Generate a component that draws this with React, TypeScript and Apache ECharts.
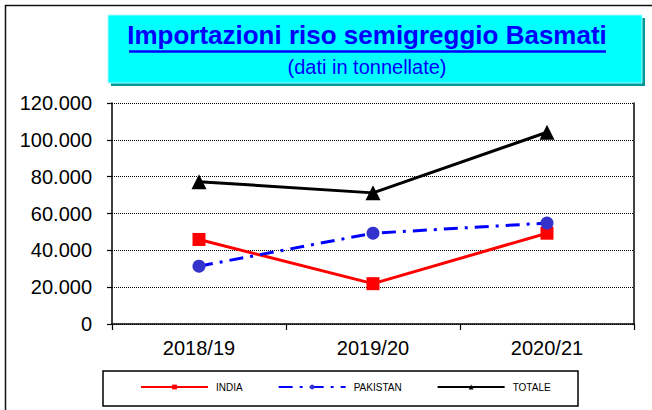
import React, { useEffect, useRef } from "react";
import * as echarts from "echarts";

const categories = ["2018/19", "2019/20", "2020/21"];
const india = [45900, 21900, 49300];
const pakistan = [31400, 49300, 54800];
const totale = [77300, 71200, 104100];
const yTicks = { min: 0, max: 120000, interval: 20000 };
const titleText = "Importazioni riso semigreggio Basmati";
const subtitleText = "(dati in tonnellate)";
const seriesNames = ["INDIA", "PAKISTAN", "TOTALE"];

function fmt(v: number): string {
  if (v === 0) return "0";
  const s = String(Math.round(v));
  return s.replace(/\B(?=(\d{3})+(?!\d))/g, ".");
}

export default function App() {
  const ref = useRef<HTMLDivElement>(null);
  useEffect(() => {
    if (!ref.current) return;
    const chart = echarts.init(ref.current, null, { renderer: "svg" });
    const font = "Liberation Sans, Arial, sans-serif";
    chart.setOption({
      animation: false,
      backgroundColor: "#fff",
      textStyle: { fontFamily: font },
      grid: { left: 112, right: 18, top: 103, bottom: 86, containLabel: false },
      xAxis: {
        type: "category",
        data: categories,
        boundaryGap: true,
        axisLine: { lineStyle: { color: "#000", width: 1.5 } },
        axisTick: { show: true, length: 6, lineStyle: { color: "#000", width: 1.2 } },
        axisLabel: { color: "#000", fontSize: 20, margin: 14, fontFamily: font },
        splitLine: { show: false },
      },
      yAxis: [
        {
          type: "value",
          min: yTicks.min,
          max: yTicks.max,
          interval: yTicks.interval,
          axisLine: { show: true, lineStyle: { color: "#000", width: 1.5 } },
          axisTick: { show: true, length: 5, lineStyle: { color: "#000", width: 1.2 } },
          axisLabel: { color: "#000", fontSize: 20, margin: 20, formatter: fmt, fontFamily: font },
          splitLine: { show: true, lineStyle: { color: "#000", width: 1, type: [1, 1] } },
        },
        {
          type: "value",
          position: "right",
          min: yTicks.min,
          max: yTicks.max,
          interval: yTicks.interval,
          axisLine: { show: true, lineStyle: { color: "#000", width: 1.5 } },
          axisTick: { show: false },
          axisLabel: { show: false },
          splitLine: { show: false },
        },
      ],
      legend: {
        left: 140,
        top: 382,
        itemWidth: 67,
        itemHeight: 6,
        itemGap: 35,
        padding: 0,
        textStyle: { fontSize: 10, color: "#000", fontFamily: font, padding: [0, 0, 0, 3] },
        data: seriesNames,
      },
      series: [
        {
          name: seriesNames[0],
          type: "line",
          data: india,
          symbol: "rect",
          symbolSize: 13,
          itemStyle: { color: "#ff0000" },
          lineStyle: { color: "#ff0000", width: 3 },
        },
        {
          name: seriesNames[1],
          type: "line",
          data: pakistan,
          symbol: "circle",
          symbolSize: 13,
          itemStyle: { color: "#3333cc" },
          lineStyle: { color: "#0000ff", width: 3, type: [14, 7, 3, 7] },
        },
        {
          name: seriesNames[2],
          type: "line",
          data: totale,
          symbol: "triangle",
          symbolSize: 15,
          itemStyle: { color: "#000" },
          lineStyle: { color: "#000", width: 3 },
        },
      ],
      graphic: [
        { type: "line", shape: { x1: 5.5, y1: 5, x2: 5.5, y2: 410 }, style: { stroke: "#111", lineWidth: 1.5 } },
        { type: "line", shape: { x1: 5, y1: 5.5, x2: 652, y2: 5.5 }, style: { stroke: "#111", lineWidth: 1.5 } },
        { type: "rect", shape: { x: 111, y: 18, width: 534, height: 68 }, style: { fill: "#009999" } },
        { type: "rect", shape: { x: 108, y: 15, width: 534, height: 68 }, style: { fill: "#00ffff", stroke: "#aaffff", lineWidth: 1 } },
        {
          type: "text",
          x: 367,
          y: 48,
          style: {
            text: titleText,
            font: "bold 26px Liberation Sans, Arial, sans-serif",
            fill: "#0000ff",
            align: "center",
            verticalAlign: "bottom",
          },
        },
        { type: "line", shape: { x1: 129, y1: 51.5, x2: 606, y2: 51.5 }, style: { stroke: "#0000ff", lineWidth: 2.5 } },
        {
          type: "text",
          x: 367,
          y: 67,
          style: {
            text: subtitleText,
            font: "20px Liberation Sans, Arial, sans-serif",
            fill: "#0000ff",
            align: "center",
            verticalAlign: "middle",
          },
        },
        { type: "rect", shape: { x: 103, y: 371, width: 475, height: 35 }, style: { fill: "none", stroke: "#000", lineWidth: 1.5 } },
      ],
    });
    return () => chart.dispose();
  }, []);
  return <div ref={ref} style={{ position: "fixed", left: 0, top: 0, width: 652, height: 410 }} />;
}
